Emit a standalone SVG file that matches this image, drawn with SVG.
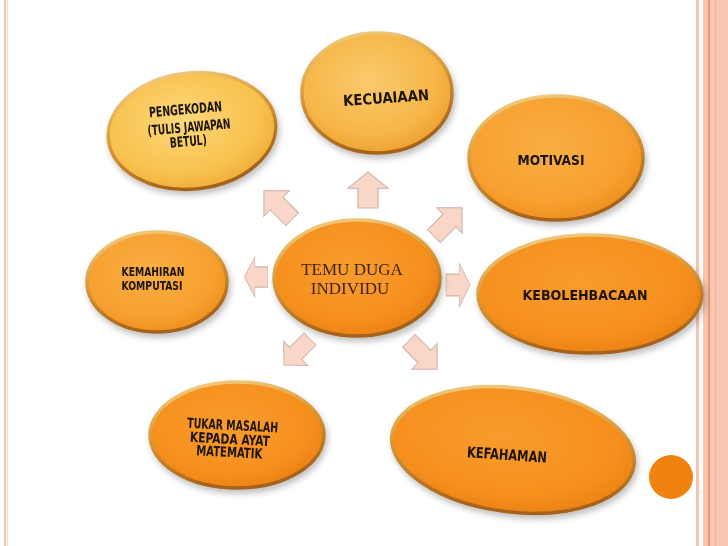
<svg xmlns="http://www.w3.org/2000/svg" width="728" height="546" viewBox="0 0 728 546">
<style>
.lbl{font-family:"DejaVu Sans Condensed","DejaVu Sans","Liberation Sans",sans-serif;font-weight:bold;fill:#1a1208;text-anchor:middle}
.ctr{font-family:"Liberation Serif","DejaVu Serif",serif;fill:#3d2410;text-anchor:middle;font-size:17px}
.rim{stroke:url(#gRim);stroke-width:3.5}
.arr{fill:#F9D6C7;stroke:#C9B3AA;stroke-width:1}
</style>
<defs>
<radialGradient id="gY" cx="0.45" cy="0.4" r="0.65">
<stop offset="0" stop-color="#FCD77A"/><stop offset="0.7" stop-color="#F8C24E"/><stop offset="1" stop-color="#EFA834"/>
</radialGradient>
<radialGradient id="gK" cx="0.45" cy="0.4" r="0.65">
<stop offset="0" stop-color="#FACB6E"/><stop offset="0.7" stop-color="#F6B546"/><stop offset="1" stop-color="#EC9C2C"/>
</radialGradient>
<radialGradient id="gA" cx="0.45" cy="0.4" r="0.65">
<stop offset="0" stop-color="#F9AE44"/><stop offset="0.7" stop-color="#F7A030"/><stop offset="1" stop-color="#EC8C1C"/>
</radialGradient>
<radialGradient id="gO" cx="0.45" cy="0.4" r="0.65">
<stop offset="0" stop-color="#F89C2E"/><stop offset="0.7" stop-color="#F6901E"/><stop offset="1" stop-color="#E97E12"/>
</radialGradient>
<linearGradient id="gRim" x1="0" y1="0" x2="0.3" y2="1">
<stop offset="0" stop-color="#F6D48A"/><stop offset="0.5" stop-color="#D89A3A"/><stop offset="1" stop-color="#A4621A"/>
</linearGradient>
<filter id="sh" x="-20%" y="-20%" width="140%" height="150%">
<feGaussianBlur in="SourceAlpha" stdDeviation="3"/>
<feOffset dx="2" dy="4" result="b"/>
<feComponentTransfer><feFuncA type="linear" slope="0.25"/></feComponentTransfer>
<feMerge><feMergeNode/><feMergeNode in="SourceGraphic"/></feMerge>
</filter>
<path id="ar" d="M-20,-9 H2 V-18 L20,0 L2,18 V9 H-20 Z"/>
</defs>
<rect width="728" height="546" fill="#ffffff"/>
<!-- slide borders -->
<g id="border">
<rect x="4" y="0" width="2" height="546" fill="#F6C9B9"/>
<rect x="7" y="0" width="1" height="546" fill="#FBE0D6"/>
<rect x="696" y="0" width="3" height="546" fill="#F4C4B0"/>
<rect x="703" y="0" width="25" height="546" fill="#F7C6B2"/>
<rect x="708" y="0" width="2" height="546" fill="#E99A6E"/>
<rect x="715" y="0" width="1" height="546" fill="#F0B49A"/>
<circle cx="671" cy="477" r="22" fill="#F0830F"/>
</g>
<g id="connectors">
<use href="#ar" class="arr" transform="translate(278,205) rotate(-135) scale(1,1)"/>
<use href="#ar" class="arr" transform="translate(368,190) rotate(-90) scale(0.9,1.12)"/>
<use href="#ar" class="arr" transform="translate(448,222) rotate(-45) scale(1,1)"/>
<use href="#ar" class="arr" transform="translate(256,277) rotate(180) scale(0.58,1.12)"/>
<use href="#ar" class="arr" transform="translate(458,285) scale(0.6,1.22)"/>
<use href="#ar" class="arr" transform="translate(297,352) rotate(135) scale(0.92,0.95)"/>
<use href="#ar" class="arr" transform="translate(423,355) rotate(45) scale(1,1)"/>
</g>
<g id="center" filter="url(#sh)">
<ellipse cx="357" cy="278" rx="83" ry="58" fill="url(#gO)" class="rim"/>
<text class="ctr" x="352" y="275">TEMU DUGA</text>
<text class="ctr" x="350" y="294">INDIVIDU</text>
</g>
<g id="pengekodan" filter="url(#sh)">
<ellipse cx="192" cy="131" rx="84" ry="58" transform="rotate(-6 192 131)" fill="url(#gY)" class="rim"/>
<g transform="rotate(-5 188 127)">
<text class="lbl" x="187" y="114" font-size="14" textLength="73" lengthAdjust="spacingAndGlyphs">PENGEKODAN</text>
<text class="lbl" x="189" y="132" font-size="14" textLength="83" lengthAdjust="spacingAndGlyphs">(TULIS JAWAPAN</text>
<text class="lbl" x="187" y="146" font-size="14" textLength="37" lengthAdjust="spacingAndGlyphs">BETUL)</text>
</g>
</g>
<g id="kecuaiaan" filter="url(#sh)">
<ellipse cx="377" cy="93" rx="75" ry="60" fill="url(#gK)" class="rim"/>
<text class="lbl" x="386" y="103" font-size="15" textLength="86" lengthAdjust="spacingAndGlyphs" transform="rotate(-4 386 98)">KECUAIAAN</text>
</g>
<g id="motivasi" filter="url(#sh)">
<ellipse cx="556" cy="158" rx="87" ry="62" fill="url(#gA)" class="rim"/>
<text class="lbl" x="551" y="165" font-size="14" textLength="67" lengthAdjust="spacingAndGlyphs">MOTIVASI</text>
</g>
<g id="kebolehbacaan" filter="url(#sh)">
<ellipse cx="590" cy="294" rx="112" ry="59" fill="url(#gO)" class="rim"/>
<text class="lbl" x="585" y="300" font-size="14" textLength="125" lengthAdjust="spacingAndGlyphs">KEBOLEHBACAAN</text>
</g>
<g id="kemahiran" filter="url(#sh)">
<ellipse cx="157" cy="282" rx="70" ry="50" fill="url(#gA)" class="rim"/>
<text class="lbl" x="153" y="276" font-size="12" textLength="63" lengthAdjust="spacingAndGlyphs">KEMAHIRAN</text>
<text class="lbl" x="152" y="290" font-size="12" textLength="61" lengthAdjust="spacingAndGlyphs">KOMPUTASI</text>
</g>
<g id="tukar" filter="url(#sh)">
<ellipse cx="237" cy="435" rx="87" ry="53" fill="url(#gO)" class="rim"/>
<g transform="rotate(3 231 438)">
<text class="lbl" x="232" y="430" font-size="14" textLength="91" lengthAdjust="spacingAndGlyphs">TUKAR MASALAH</text>
<text class="lbl" x="230" y="444" font-size="14" textLength="80" lengthAdjust="spacingAndGlyphs">KEPADA AYAT</text>
<text class="lbl" x="230" y="457" font-size="14" textLength="66" lengthAdjust="spacingAndGlyphs">MATEMATIK</text>
</g>
</g>
<g id="kefahaman" filter="url(#sh)">
<ellipse cx="513" cy="450" rx="122" ry="62" transform="rotate(7 513 450)" fill="url(#gO)" class="rim"/>
<text class="lbl" x="507" y="460" font-size="15" textLength="80" lengthAdjust="spacingAndGlyphs" transform="rotate(4 507 455)">KEFAHAMAN</text>
</g>
</svg>
